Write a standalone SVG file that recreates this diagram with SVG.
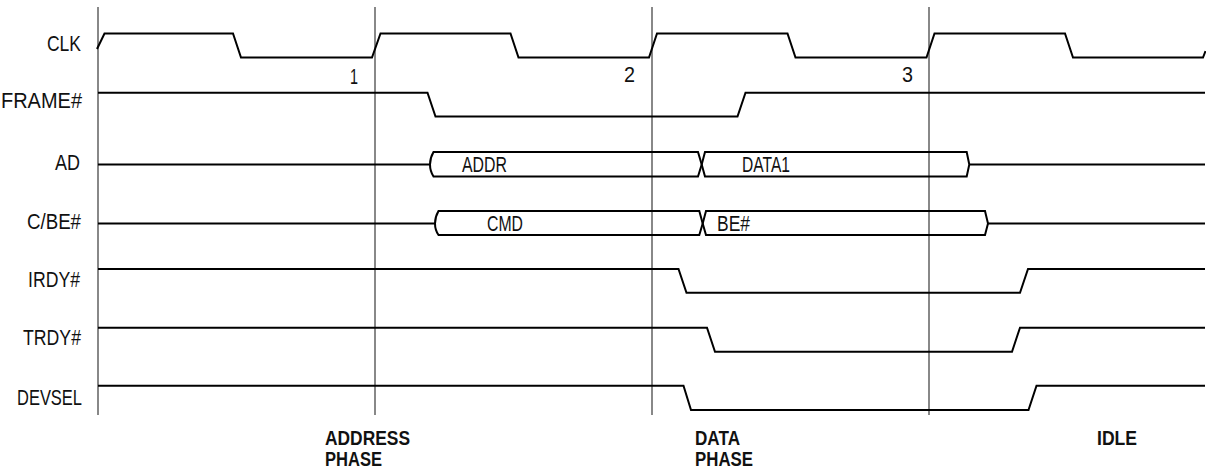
<svg xmlns="http://www.w3.org/2000/svg" width="1206" height="472" viewBox="0 0 1206 472">
<style>
text{font-family:"Liberation Sans Narrow","Liberation Sans",Arial,sans-serif;font-size:22px;fill:#111}
.lbl{text-anchor:end}
.ph{font-weight:bold;font-size:21px}
.grid line{stroke:#888;stroke-width:2}
.wave{fill:none;stroke:#000;stroke-width:2;stroke-linejoin:miter}
</style>
<rect width="1206" height="472" fill="#fff"/>
<g id="grid" class="grid">
<line x1="98" y1="7" x2="98" y2="415"/>
<line x1="375" y1="7" x2="375" y2="415"/>
<line x1="652" y1="7" x2="652" y2="415"/>
<line x1="929" y1="7" x2="929" y2="415"/>
</g>
<g id="clk">
<text class="lbl" x="81" y="51" textLength="34" lengthAdjust="spacingAndGlyphs">CLK</text>
<path class="wave" d="M97,49 L104.5,33.5 L233,33.5 L241,57.5 L372,57.5 L380.5,33.5 L510.5,33.5 L518.5,57.5 L649,57.5 L657,33.5 L787.5,33.5 L795.5,57.5 L926.5,57.5 L934.5,33.5 L1065,33.5 L1073,57.5 L1203,57.5 L1205.5,51"/>
<text x="350" y="84" textLength="8" lengthAdjust="spacingAndGlyphs">1</text>
<text x="624" y="82" textLength="11" lengthAdjust="spacingAndGlyphs">2</text>
<text x="902" y="82" textLength="11" lengthAdjust="spacingAndGlyphs">3</text>
</g>
<g id="frame">
<text class="lbl" x="82" y="108" textLength="81" lengthAdjust="spacingAndGlyphs">FRAME#</text>
<path class="wave" d="M98,92.7 L427.5,92.7 L435.5,116.5 L737.5,116.5 L745.5,92.7 L1205,92.7"/>
</g>
<g id="ad">
<text class="lbl" x="80" y="170" textLength="25" lengthAdjust="spacingAndGlyphs">AD</text>
<path class="wave" d="M98,164.5 L430,164.5"/>
<path class="wave" d="M698,152 L433.5,152 Q430,158 430,164.5 Q430,171 433.5,176.5 L698,176.5 L701.7,164.5 Z"/>
<path class="wave" d="M705,152 L966.7,152 L969.3,164.5 L966.7,176.5 L705,176.5 L701.7,164.5 Z"/>
<path class="wave" d="M969.3,164.5 L1205,164.5"/>
<text x="462" y="172" textLength="45" lengthAdjust="spacingAndGlyphs">ADDR</text>
<text x="742" y="172" textLength="48" lengthAdjust="spacingAndGlyphs">DATA1</text>
</g>
<g id="cbe">
<text class="lbl" x="81" y="229" textLength="54" lengthAdjust="spacingAndGlyphs">C/BE#</text>
<path class="wave" d="M98,223.5 L435,223.5"/>
<path class="wave" d="M699.3,211 L438.5,211 Q435,217 435,223.5 Q435,230 438.5,235 L699.3,235 L702.7,223.5 Z"/>
<path class="wave" d="M706,211 L985,211 L988,223.5 L985,235 L706,235 L702.7,223.5 Z"/>
<path class="wave" d="M988,223.5 L1205,223.5"/>
<text x="487" y="231" textLength="36" lengthAdjust="spacingAndGlyphs">CMD</text>
<text x="717" y="231" textLength="33" lengthAdjust="spacingAndGlyphs">BE#</text>
</g>
<g id="irdy">
<text class="lbl" x="80" y="287" textLength="52" lengthAdjust="spacingAndGlyphs">IRDY#</text>
<path class="wave" d="M98,269 L678.5,269 L686.5,292.7 L1020,292.7 L1028,269 L1205,269"/>
</g>
<g id="trdy">
<text class="lbl" x="81" y="345" textLength="58" lengthAdjust="spacingAndGlyphs">TRDY#</text>
<path class="wave" d="M98,327.7 L707,327.7 L715,351.7 L1012,351.7 L1020,327.7 L1205,327.7"/>
</g>
<g id="devsel">
<text class="lbl" x="82" y="405" textLength="65" lengthAdjust="spacingAndGlyphs">DEVSEL</text>
<path class="wave" d="M98,385.7 L683.5,385.7 L691,410 L1028.5,410 L1036.5,385.7 L1205,385.7"/>
</g>
<g id="address-phase">
<text class="ph" x="325" y="445" textLength="85" lengthAdjust="spacingAndGlyphs">ADDRESS</text>
<text class="ph" x="325" y="466" textLength="57" lengthAdjust="spacingAndGlyphs">PHASE</text>
</g>
<g id="data-phase">
<text class="ph" x="695" y="445" textLength="45" lengthAdjust="spacingAndGlyphs">DATA</text>
<text class="ph" x="695" y="466" textLength="58" lengthAdjust="spacingAndGlyphs">PHASE</text>
</g>
<g id="idle">
<text class="ph" x="1097" y="445" textLength="40" lengthAdjust="spacingAndGlyphs">IDLE</text>
</g>
</svg>
